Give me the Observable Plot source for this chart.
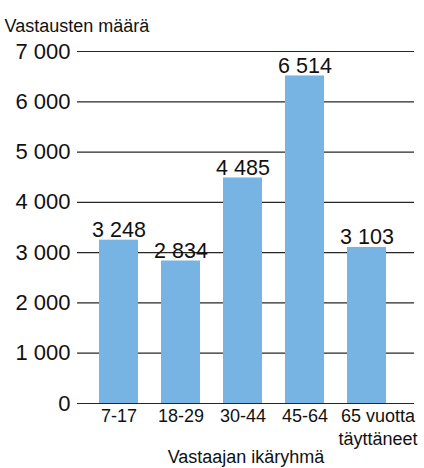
<!DOCTYPE html>
<html><head><meta charset="utf-8">
<script src="https://cdn.jsdelivr.net/npm/d3@7"></script>
<script src="https://cdn.jsdelivr.net/npm/@observablehq/plot@0.6"></script>
<style>body{margin:0;background:#fff}</style>
</head><body><div id="chart"></div>
<script>
const categories = ["7-17", "18-29", "30-44", "45-64", "65 vuotta\ntäyttäneet"];
const values = [3248, 2834, 4485, 6514, 3103];
const yTicks = [0, 1000, 2000, 3000, 4000, 5000, 6000, 7000];
const yTitle = "Vastausten määrä";
const xTitle = "Vastaajan ikäryhmä";

const data = categories.map((c, i) => ({cat: c, value: values[i]}));
const fmt = d3.formatLocale({thousands: " ", grouping: [3], decimal: ",", currency: ["", " €"]}).format(",d");

const chart = Plot.plot({
  width: 424,
  height: 468,
  marginLeft: 77,
  marginRight: 10,
  marginTop: 51,
  marginBottom: 65,
  style: {fontFamily: "'Liberation Sans', Arial, sans-serif", background: "white", color: "#111"},
  x: {domain: categories, paddingInner: 0.371, paddingOuter: 0.403, align: 0.44, label: null},
  y: {domain: [0, 7000], ticks: yTicks, label: null},
  marks: [
    Plot.ruleY(yTicks, {stroke: "#262626", strokeWidth: 1.2}),
    Plot.barY(data, {x: "cat", y: "value", fill: "#78b4e3"}),
    Plot.text(data, {x: "cat", y: "value", text: d => fmt(d.value), lineAnchor: "bottom", dy: -3, fontSize: 21.5, fill: "#111"}),
    Plot.axisY({ticks: yTicks, tickSize: 0, tickPadding: 7, fontSize: 22, tickFormat: fmt, label: null}),
    Plot.axisX(categories.slice(0, 4), {tickSize: 0, tickPadding: 3, fontSize: 18, lineHeight: 1.25, label: null}),
    Plot.axisX(categories.slice(4), {tickSize: 0, tickPadding: 3, fontSize: 18, lineHeight: 1.25, dx: 11, label: null}),
    Plot.text([yTitle], {frameAnchor: "top-left", dx: -73, dy: -25, textAnchor: "start", lineAnchor: "middle", fontSize: 18, fill: "#111"}),
    Plot.text([xTitle], {frameAnchor: "bottom", dy: 54, lineAnchor: "middle", fontSize: 18, fill: "#111"})
  ]
});
document.getElementById("chart").appendChild(chart);
</script>
</body></html>
